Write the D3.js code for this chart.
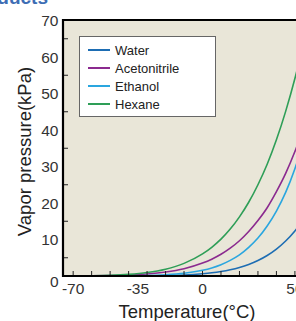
<!DOCTYPE html>
<html>
<head>
<meta charset="utf-8">
<script src="https://cdn.jsdelivr.net/npm/d3@7"></script>
<style>
  body { margin: 0; background: #fff; }
  svg { display: block; font-family: "Liberation Sans", Arial, sans-serif; }
</style>
</head>
<body>
<svg width="296" height="321"></svg>
<script>
// temperatures (°C) and vapor pressure (kPa)
var temps = [-75, -70, -60, -50, -40, -30, -20, -10, 0, 5, 10, 15, 20, 25, 30, 35, 40, 45, 50, 55];
var water = [0.0001, 0.0003, 0.001, 0.004, 0.013, 0.04, 0.10, 0.26, 0.61, 0.87, 1.23, 1.71, 2.34, 3.17, 4.25, 5.63, 7.38, 9.59, 12.35, 15.76];
var acetonitrile = [0.010, 0.016, 0.048, 0.12, 0.27, 0.55, 1.08, 2.0, 3.53, 4.61, 5.95, 7.62, 9.66, 12.2, 15.2, 18.7, 23.1, 28.1, 34.1, 41.0];
var ethanol = [0.0006, 0.0012, 0.005, 0.017, 0.05, 0.13, 0.33, 0.74, 1.57, 2.22, 3.10, 4.28, 5.78, 7.84, 10.4, 13.7, 17.8, 22.9, 29.4, 37.2];
var hexane = [0.015, 0.026, 0.075, 0.19, 0.45, 0.95, 1.87, 3.46, 6.05, 7.87, 10.1, 12.85, 16.2, 20.2, 25.0, 30.6, 37.3, 45.1, 54.1, 64.5];

var seriesNames = ['Water', 'Acetonitrile', 'Ethanol', 'Hexane'];
var seriesValues = [water, acetonitrile, ethanol, hexane];
var seriesColors = ['#1d6db3', '#8b2a8f', '#2aa6df', '#2e9e57'];

var xTickValues = d3.range(-70, 51, 10);
var xTickLabels = [-70, -35, 0, 50];
var yLabelValues = [0, 10, 20, 30, 40, 50, 60, 70];
var yMinorValues = [5, 15, 25, 35, 45, 55, 65];

function main() {
  var svg = d3.select('svg');
  var left = 63, top = 20, bottom = 276, right = 330;

  var x = d3.scaleLinear().domain([-75.5, 69]).range([left, right]);
  var y = d3.scaleLinear().domain([0, 70]).range([bottom, top + 0.5]);

  // heading fragment cut off at top
  svg.append('text')
    .attr('x', 48).attr('y', 4)
    .attr('text-anchor', 'end')
    .attr('fill', '#3d6db4')
    .attr('font-weight', 'bold')
    .attr('font-size', 19)
    .text('Products');

  // plot background
  svg.append('rect')
    .attr('x', left).attr('y', top)
    .attr('width', right - left).attr('height', bottom - top)
    .attr('fill', '#e9e6d8');

  svg.append('clipPath').attr('id', 'clip')
    .append('rect')
    .attr('x', left).attr('y', top)
    .attr('width', right - left).attr('height', bottom - top);

  var line = d3.line()
    .x(function(d, i) { return x(temps[i]); })
    .y(function(d) { return y(d); })
    .curve(d3.curveMonotoneX);

  var g = svg.append('g').attr('clip-path', 'url(#clip)');
  g.selectAll('path.series')
    .data(seriesValues)
    .enter().append('path')
    .attr('class', 'series')
    .attr('d', line)
    .attr('fill', 'none')
    .attr('stroke', function(d, i) { return seriesColors[i]; })
    .attr('stroke-width', 1.6);

  // ticks inside the plot
  svg.selectAll('line.xtick')
    .data(xTickValues)
    .enter().append('line')
    .attr('x1', function(d) { return x(d); })
    .attr('x2', function(d) { return x(d); })
    .attr('y1', bottom).attr('y2', bottom - 5)
    .attr('stroke', '#222').attr('stroke-width', 1);

  svg.selectAll('line.ytick')
    .data(yMinorValues)
    .enter().append('line')
    .attr('x1', left).attr('x2', left + 5)
    .attr('y1', function(d) { return y(d); })
    .attr('y2', function(d) { return y(d); })
    .attr('stroke', '#222').attr('stroke-width', 1);

  // frame
  svg.append('line').attr('x1', left).attr('x2', left).attr('y1', top - 1).attr('y2', bottom + 1)
    .attr('stroke', '#000').attr('stroke-width', 2.2);
  svg.append('line').attr('x1', left - 1).attr('x2', right).attr('y1', bottom).attr('y2', bottom)
    .attr('stroke', '#000').attr('stroke-width', 2.2);
  svg.append('line').attr('x1', left - 1).attr('x2', right).attr('y1', top).attr('y2', top)
    .attr('stroke', '#000').attr('stroke-width', 1.8);

  // tick labels
  svg.selectAll('text.xlab')
    .data(xTickLabels)
    .enter().append('text')
    .attr('x', function(d) { return x(d); })
    .attr('y', 293.5)
    .attr('text-anchor', 'middle')
    .attr('font-size', 15.5)
    .attr('fill', '#333')
    .text(function(d) { return d; });

  svg.selectAll('text.ylab')
    .data(yLabelValues)
    .enter().append('text')
    .attr('x', 58.5)
    .attr('y', function(d) { return y(d) + (d === 0 ? 11 : 5.5); })
    .attr('text-anchor', 'end')
    .attr('font-size', 15.5)
    .attr('fill', '#333')
    .text(function(d) { return d; });

  // axis titles
  svg.append('text')
    .attr('x', 187).attr('y', 318)
    .attr('text-anchor', 'middle')
    .attr('font-size', 18.5)
    .attr('fill', '#222')
    .text('Temperature(°C)');

  svg.append('text')
    .attr('transform', 'translate(31,151.5) rotate(-90)')
    .attr('text-anchor', 'middle')
    .attr('font-size', 18.5)
    .attr('fill', '#222')
    .text('Vapor pressure(kPa)');

  // legend
  var lg = svg.append('g');
  lg.append('rect')
    .attr('x', 79.5).attr('y', 36.5)
    .attr('width', 136).attr('height', 80)
    .attr('fill', '#fff')
    .attr('stroke', '#666').attr('stroke-width', 1);

  var item = lg.selectAll('g.item')
    .data(seriesNames)
    .enter().append('g')
    .attr('transform', function(d, i) { return 'translate(0,' + (50 + i * 18) + ')'; });
  item.append('line')
    .attr('x1', 88).attr('x2', 110)
    .attr('stroke', function(d, i) { return seriesColors[i]; })
    .attr('stroke-width', 2);
  item.append('text')
    .attr('x', 115).attr('y', 4.5)
    .attr('font-size', 13)
    .attr('fill', '#222')
    .text(function(d) { return d; });
}
main();
</script>
</body>
</html>
